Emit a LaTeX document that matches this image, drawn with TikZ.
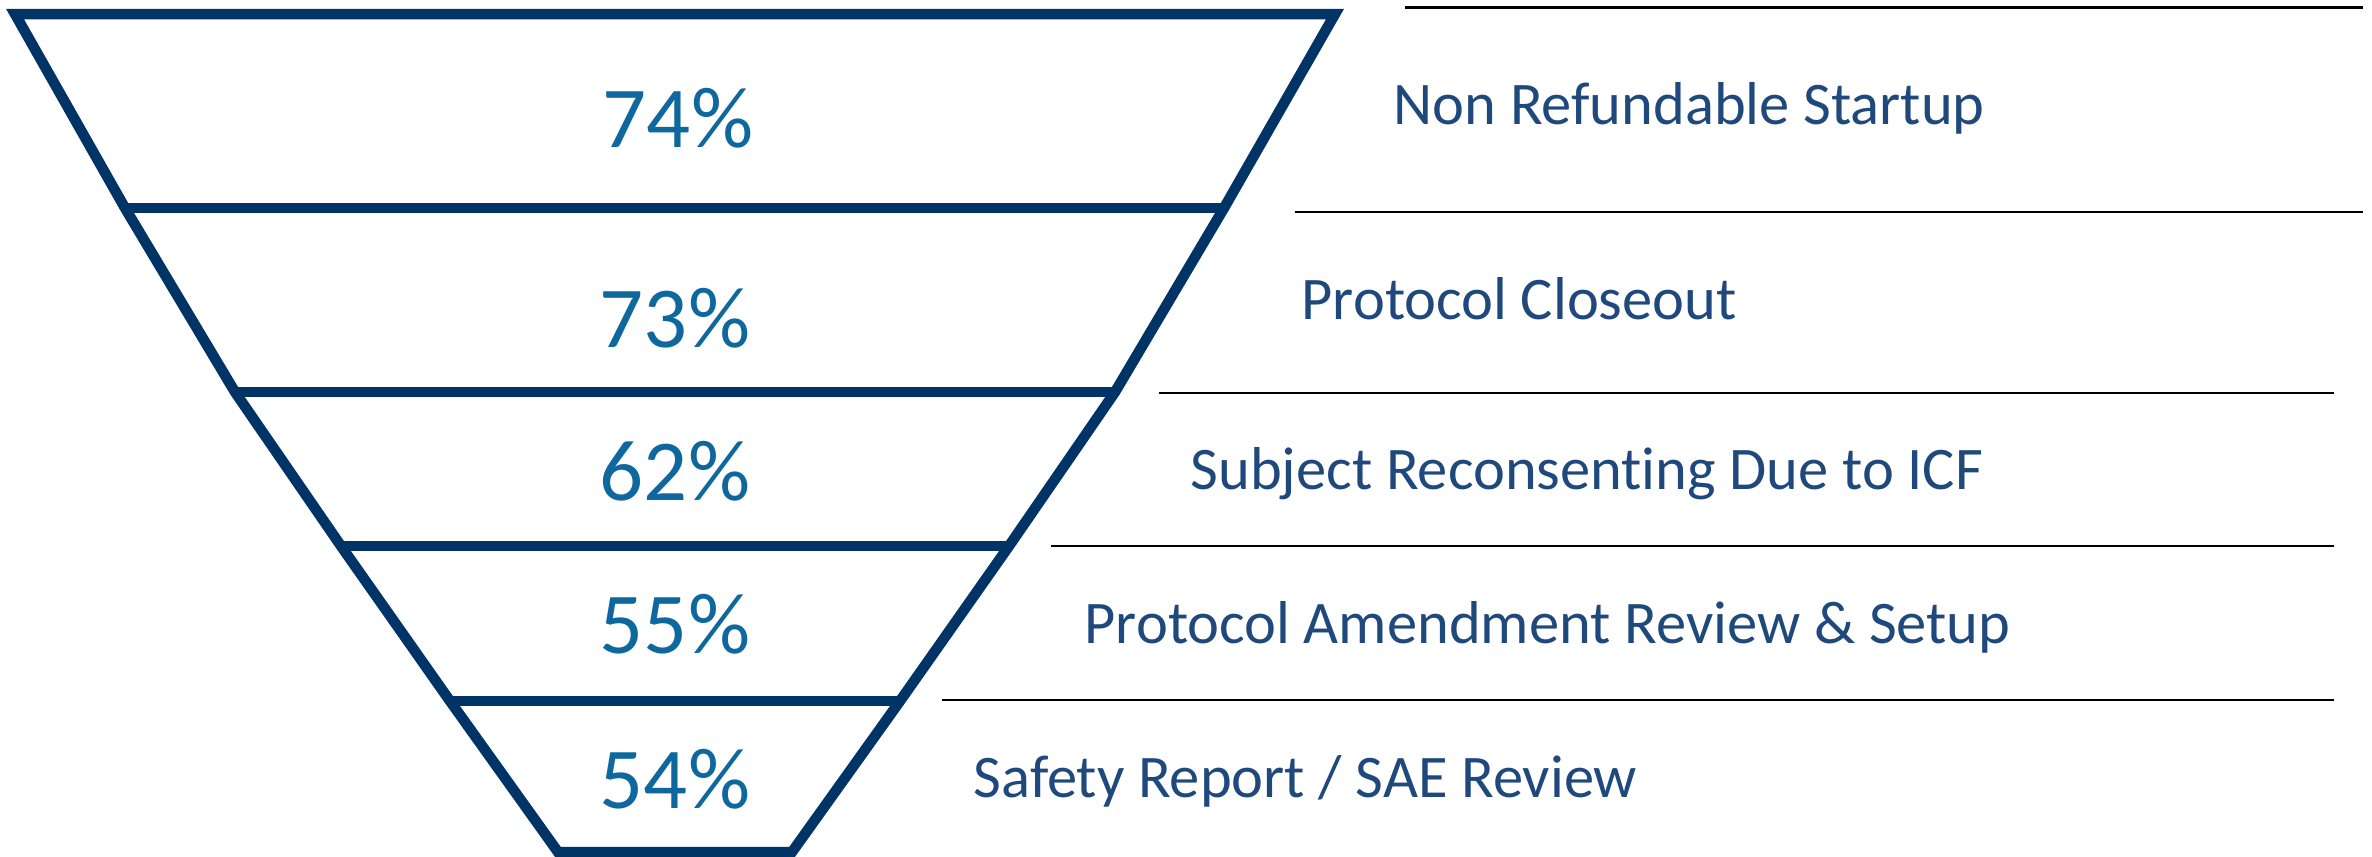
\documentclass[tikz,border=0pt]{standalone}
\usepackage{fontspec}
\setmainfont[Ligatures={NoCommon},RawFeature={-liga;-clig}]{Carlito}
\definecolor{navy}{RGB}{0,51,102}
\definecolor{pct}{RGB}{14,104,158}
\definecolor{lbl}{RGB}{31,73,125}
\begin{document}
\begin{tikzpicture}[x=0.01cm,y=-0.01cm,
 funnel/.style={draw=navy,line width=0.105cm,line join=miter},
 pctlabel/.style={text=pct,font=\fontsize{24.7}{26}\selectfont,anchor=base,inner sep=0pt},
 steplabel/.style={text=lbl,font=\fontsize{17.2}{19}\selectfont,anchor=base west,inner sep=0pt},
 rule/.style={draw=black,line width=0.8pt}]
\useasboundingbox (0,0) rectangle (2372,856);
% funnel corners
\coordinate (l0) at (15,14);   \coordinate (r0) at (1335,14);
\coordinate (l1) at (125,208); \coordinate (r1) at (1224,208);
\coordinate (l2) at (235,392); \coordinate (r2) at (1115,392);
\coordinate (l3) at (341,546); \coordinate (r3) at (1009,546);
\coordinate (l4) at (450,701); \coordinate (r4) at (900,701);
\coordinate (l5) at (558,852); \coordinate (r5) at (792,852);
\draw[funnel] (l0) -- (l1) -- (l2) -- (l3) -- (l4) -- (l5) -- (r5) -- (r4) -- (r3) -- (r2) -- (r1) -- (r0) -- cycle;
\foreach \i in {1,2,3,4} \draw[funnel] (l\i) -- (r\i);
% percentages
\node[pctlabel] (p1) at (678,147) {74\%};
\node[pctlabel] (p2) at (675,347) {73\%};
\node[pctlabel] (p3) at (675,500) {62\%};
\node[pctlabel] (p4) at (675,653) {55\%};
\node[pctlabel] (p5) at (675,808) {54\%};
% side rules
\coordinate (a1) at (1405,7.5); \coordinate (a2) at (2363,7.5);
\coordinate (b1) at (1295,212); \coordinate (b2) at (2363,212);
\coordinate (c1) at (1159,393); \coordinate (c2) at (2334,393);
\coordinate (d1) at (1051,546); \coordinate (d2) at (2334,546);
\coordinate (e1) at (942,700);  \coordinate (e2) at (2334,700);
\draw[rule] (a1) -- (a2);
\draw[rule] (b1) -- (b2);
\draw[rule] (c1) -- (c2);
\draw[rule] (d1) -- (d2);
\draw[rule] (e1) -- (e2);
% labels
\node[steplabel] (s1) at (1393,124) {Non Refundable Startup};
\node[steplabel] (s2) at (1301,319) {Protocol Closeout};
\node[steplabel] (s3) at (1190,489) {Subject Reconsent\kern0pt ing Due to ICF};
\node[steplabel] (s4) at (1084,643) {Protocol Amendment Review \& Setup};
\node[steplabel] (s5) at (973,797) {Safety Report / SAE Review};
\end{tikzpicture}
\end{document}
